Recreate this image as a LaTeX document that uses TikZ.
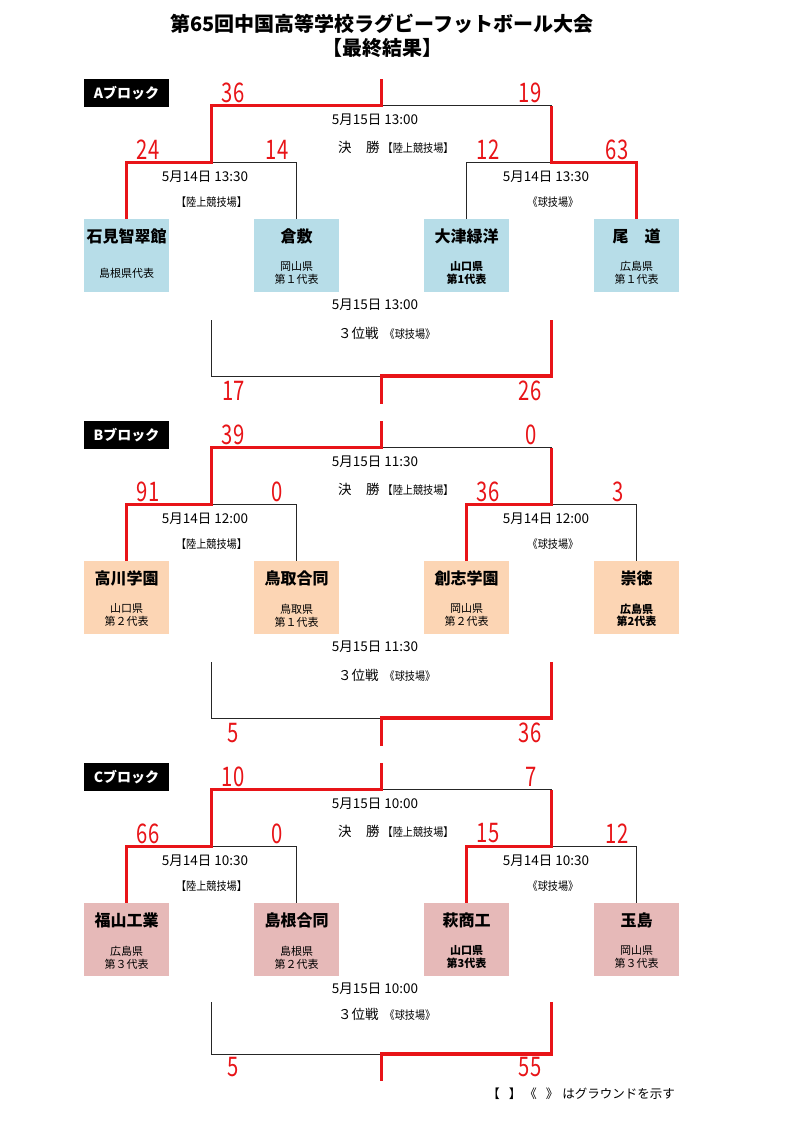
\documentclass[tikz,border=0pt]{standalone}
\usepackage{fontspec}
\setmainfont{Noto Sans CJK JP}
\usepackage{graphicx}
\definecolor{rd}{RGB}{232,20,24}
\definecolor{cA}{RGB}{183,221,232}
\definecolor{cB}{RGB}{252,213,180}
\definecolor{cC}{RGB}{230,185,184}
\newcommand\nar[1]{\scalebox{0.75}[1]{#1}}
\newcommand\vn[1]{{\fontsize{11.5}{12}\selectfont\scalebox{0.88}[1]{#1}}}
\tikzset{
  win/.style={draw=rd, line width=3.2pt},
  lose/.style={draw=black!85, line width=1pt},
  sc/.style={text=rd, inner sep=0pt, font=\fontsize{27}{27}\selectfont},
  dt/.style={inner sep=0pt, font=\fontsize{13.5}{14}\selectfont},
  ven/.style={inner sep=0pt},
  finlab/.style={inner sep=0pt, anchor=west, font=\fontsize{13.5}{14}\selectfont},
  tbox/.style={minimum width=85pt, minimum height=73pt, inner sep=0pt},
  tname/.style={inner sep=0pt, font=\fontsize{16}{16}\selectfont\bfseries},
  tsub/.style={inner sep=0pt, align=center, font=\fontsize{11}{13}\selectfont},
  tsubb/.style={inner sep=0pt, align=center, font=\fontsize{11}{13}\selectfont\bfseries},
  blab/.style={fill=black, text=white, minimum width=85pt, minimum height=28.5pt, inner sep=0pt, font=\fontsize{14}{14}\selectfont\bfseries},
  ttl/.style={inner sep=0pt, font=\fontsize{20}{20}\selectfont\bfseries},
}
% #1 prefix, #2 shift, #3 colour, #4 third top y, #5 third mid y, #6 third bottom y
\newcommand\skel[6]{%
  \begin{scope}[yshift=-#2pt]
    \coordinate (#1Top) at (381.5,79);
    \coordinate (#1Fin) at (381.5,105.5);
    \coordinate (#1SL) at (211.5,105.5);
    \coordinate (#1SR) at (551.5,105.5);
    \coordinate (#1JL) at (211.5,162.5);
    \coordinate (#1JR) at (551.5,162.5);
    \coordinate (#1TL) at (211.5,#4);
    \coordinate (#1TR) at (551.5,#4);
    \coordinate (#1TM) at (381.5,#5);
    \coordinate (#1TB) at (381.5,#6);
    \node[tbox,fill=#3] (#11) at (126.5,255.5) {};
    \node[tbox,fill=#3] (#12) at (296.5,255.5) {};
    \node[tbox,fill=#3] (#13) at (466.5,255.5) {};
    \node[tbox,fill=#3] (#14) at (636.5,255.5) {};
  \end{scope}}
% #1 prefix, #2 R if right team of the right pair wins, else L
\newcommand\brlines[2]{%
  \draw[lose] (#1Fin) -- (#1SR);
  \draw[lose] (#1JL) -| (#12.north);
  \draw[lose] (#1TL) |- (#1TM);
  \ifx R#2
    \draw[lose] (#1JR) -| (#13.north);
    \draw[win] (#14.north) |- (#1JR) -- (#1SR);
  \else
    \draw[lose] (#1JR) -| (#14.north);
    \draw[win] (#13.north) |- (#1JR) -- (#1SR);
  \fi
  \draw[win] (#11.north) |- (#1JL) -- (#1SL) -- (#1Fin) -- (#1Top);
  \draw[win] (#1TR) |- (#1TM) -- (#1TB);}
% team texts: #1 box name, #2 team, #3 style, #4 subtitle
\newcommand\team[4]{%
  \node[tname] (#1n) at ([yshift=-18pt]#1.north) {#2};
  \node[#3] (#1s) at ([yshift=-54.5pt]#1.north) {#4};}
% common texts of a block: #1 prefix, #2 final date, #3 first-round time
\newcommand\btexts[3]{%
  \node[dt] (#1D1) at (375,120) {5月15日 #2};
  \node[finlab] (#1F) at (338,147) {決\hspace{14.5pt}勝\hspace{3pt}\vn{【陸上競技場】}};
  \node[dt] (#1D2) at (205,176.5) {5月14日 #3};
  \node[dt] (#1D3) at (546,176.5) {5月14日 #3};
  \node[ven] (#1V1) at (211.5,202.5) {\vn{【陸上競技場】}};
  \node[ven] (#1V2) at (553,202.5) {\vn{《球技場》}};
  \node[dt] (#1D4) at (375,305) {5月15日 #2};}
\begin{document}
\begin{tikzpicture}[x=1pt,y=-1pt]
\useasboundingbox (0,0) rectangle (793,1122);
\fill[white] (0,0) rectangle (793,1122);

\node[ttl] (title1) at (382,24) {第65回中国高等学校ラグビーフットボール大会};
\node[ttl] (title2) at (382,48) {【最終結果】};

% ---------- A block ----------
\skel{a}{0}{cA}{320}{376}{404}
\brlines{a}{R}
\team{a1}{石見智翠館}{tsub}{島根県代表}
\team{a2}{倉敷}{tsub}{岡山県\\第１代表}
\team{a3}{大津緑洋}{tsubb}{山口県\\第1代表}
\team{a4}{尾　道}{tsub}{広島県\\第１代表}
\node[blab] (aL) at (126.5,92.8) {Aブロック};
\btexts{a}{13:00}{13:30}
\node[finlab] (aT) at (338,333) {３位戦\hspace{6pt}\vn{《球技場》}};
\node[sc] (aS1) at (233,93) {\nar{36}};
\node[sc] (aS2) at (530,93) {\nar{19}};
\node[sc] (aS3) at (148,149.5) {\nar{24}};
\node[sc] (aS4) at (277,149.5) {\nar{14}};
\node[sc] (aS5) at (488,149.5) {\nar{12}};
\node[sc] (aS6) at (617,149.5) {\nar{63}};
\node[sc] (aS7) at (233.5,391) {\nar{17}};
\node[sc] (aS8) at (530,391) {\nar{26}};

% ---------- B block ----------
\skel{b}{342}{cB}{320}{376}{404}
\brlines{b}{L}
\team{b1}{高川学園}{tsub}{山口県\\第２代表}
\team{b2}{鳥取合同}{tsub}{鳥取県\\第１代表}
\team{b3}{創志学園}{tsub}{岡山県\\第２代表}
\team{b4}{崇徳}{tsubb}{広島県\\第2代表}
\begin{scope}[yshift=-342pt]
\node[blab] (bL) at (126.5,92.8) {Bブロック};
\btexts{b}{11:30}{12:00}
\node[finlab] (bT) at (338,333) {３位戦\hspace{6pt}\vn{《球技場》}};
\node[sc] (bS1) at (233,93) {\nar{39}};
\node[sc] (bS2) at (531,93) {\nar{0}};
\node[sc] (bS3) at (148,149.5) {\nar{91}};
\node[sc] (bS4) at (277,149.5) {\nar{0}};
\node[sc] (bS5) at (488,149.5) {\nar{36}};
\node[sc] (bS6) at (618,149.5) {\nar{3}};
\node[sc] (bS7) at (233.5,391) {\nar{5}};
\node[sc] (bS8) at (530,391) {\nar{36}};
\end{scope}

% ---------- C block ----------
\skel{c}{684}{cC}{318}{370}{397}
\brlines{c}{L}
\team{c1}{福山工業}{tsub}{広島県\\第３代表}
\team{c2}{島根合同}{tsub}{島根県\\第２代表}
\team{c3}{萩商工}{tsubb}{山口県\\第3代表}
\team{c4}{玉島}{tsub}{岡山県\\第３代表}
\begin{scope}[yshift=-684pt]
\node[blab] (cL) at (126.5,92.8) {Cブロック};
\btexts{c}{10:00}{10:30}
\node[finlab] (cT) at (338,330) {３位戦\hspace{6pt}\vn{《球技場》}};
\node[sc] (cS1) at (233,93) {\nar{10}};
\node[sc] (cS2) at (531,93) {\nar{7}};
\node[sc] (cS3) at (148,149.5) {\nar{66}};
\node[sc] (cS4) at (277,149.5) {\nar{0}};
\node[sc] (cS5) at (488,149.5) {\nar{15}};
\node[sc] (cS6) at (617,149.5) {\nar{12}};
\node[sc] (cS7) at (233.5,383.5) {\nar{5}};
\node[sc] (cS8) at (530,383.5) {\nar{55}};
\end{scope}

\node[inner sep=0pt, anchor=east, font=\fontsize{12.5}{12.5}\selectfont] (legend) at (675,1094)
  {【\hspace{9pt}】\hspace{3pt}《\hspace{9pt}》\hspace{4pt}はグラウンドを示す};
\end{tikzpicture}
\end{document}
